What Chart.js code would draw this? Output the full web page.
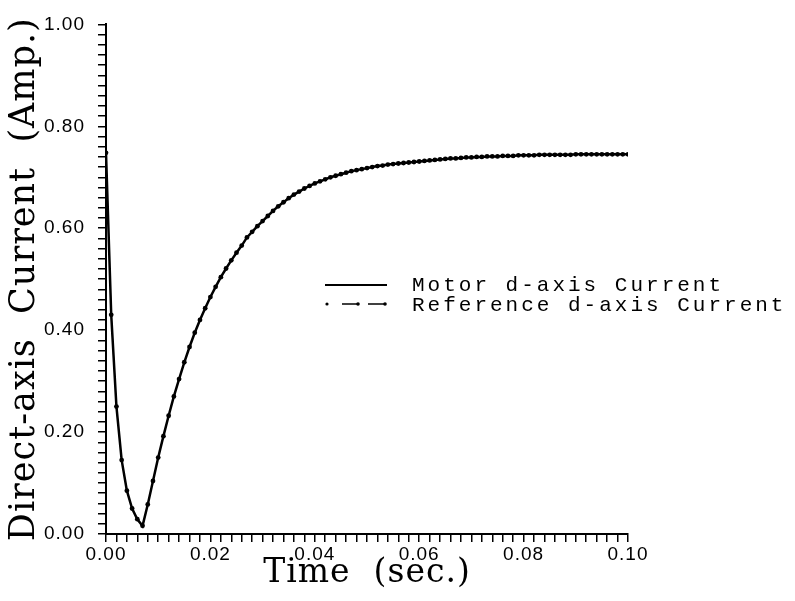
<!DOCTYPE html>
<html>
<head>
<meta charset="utf-8">
<script src="https://cdn.jsdelivr.net/npm/chart.js@4/dist/chart.umd.min.js"></script>
<style>
  html, body { margin: 0; padding: 0; background: #fff; }
  #wrap { width: 795px; height: 601px; }
</style>
</head>
<body>
<div id="wrap"><canvas id="chart" width="795" height="601"></canvas></div>
<script>
// sample times (sec.)
const timeSec = [
  0.000, 0.001, 0.002, 0.003, 0.004, 0.005, 0.006, 0.007, 0.008, 0.009,
  0.010, 0.011, 0.012, 0.013, 0.014, 0.015, 0.016, 0.017, 0.018, 0.019,
  0.020, 0.021, 0.022, 0.023, 0.024, 0.025, 0.026, 0.027, 0.028, 0.029,
  0.030, 0.031, 0.032, 0.033, 0.034, 0.035, 0.036, 0.037, 0.038, 0.039,
  0.040, 0.041, 0.042, 0.043, 0.044, 0.045, 0.046, 0.047, 0.048, 0.049,
  0.050, 0.051, 0.052, 0.053, 0.054, 0.055, 0.056, 0.057, 0.058, 0.059,
  0.060, 0.061, 0.062, 0.063, 0.064, 0.065, 0.066, 0.067, 0.068, 0.069,
  0.070, 0.071, 0.072, 0.073, 0.074, 0.075, 0.076, 0.077, 0.078, 0.079,
  0.080, 0.081, 0.082, 0.083, 0.084, 0.085, 0.086, 0.087, 0.088, 0.089,
  0.090, 0.091, 0.092, 0.093, 0.094, 0.095, 0.096, 0.097, 0.098, 0.099,
  0.100
]

// reference d-axis current (Amp.)
const referenceCurrent = [
  0.748, 0.430, 0.250, 0.145, 0.085, 0.050, 0.029, 0.016, 0.058, 0.104,
  0.150, 0.192, 0.232, 0.270, 0.304, 0.337, 0.367, 0.395, 0.420, 0.443,
  0.465, 0.485, 0.504, 0.521, 0.537, 0.552, 0.566, 0.582, 0.593, 0.604,
  0.614, 0.624, 0.634, 0.643, 0.651, 0.659, 0.666, 0.672, 0.678, 0.683,
  0.688, 0.692, 0.696, 0.700, 0.703, 0.706, 0.709, 0.712, 0.714, 0.716,
  0.718, 0.720, 0.722, 0.723, 0.725, 0.726, 0.727, 0.728, 0.729, 0.730,
  0.731, 0.732, 0.733, 0.734, 0.735, 0.736, 0.737, 0.737, 0.738, 0.739,
  0.739, 0.740, 0.740, 0.741, 0.741, 0.741, 0.742, 0.742, 0.742, 0.743,
  0.743, 0.743, 0.743, 0.744, 0.744, 0.744, 0.744, 0.744, 0.744, 0.744,
  0.745, 0.745, 0.745, 0.745, 0.745, 0.745, 0.745, 0.745, 0.745, 0.745,
  0.745
]

// motor d-axis current (Amp.) - sits on top of the reference
const motorCurrent = [
  0.748, 0.430, 0.250, 0.145, 0.085, 0.050, 0.029, 0.016, 0.058, 0.104,
  0.150, 0.192, 0.232, 0.270, 0.304, 0.337, 0.367, 0.395, 0.420, 0.443,
  0.465, 0.485, 0.504, 0.521, 0.537, 0.552, 0.566, 0.582, 0.593, 0.604,
  0.614, 0.624, 0.634, 0.643, 0.651, 0.659, 0.666, 0.672, 0.678, 0.683,
  0.688, 0.692, 0.696, 0.700, 0.703, 0.706, 0.709, 0.712, 0.714, 0.716,
  0.718, 0.720, 0.722, 0.723, 0.725, 0.726, 0.727, 0.728, 0.729, 0.730,
  0.731, 0.732, 0.733, 0.734, 0.735, 0.736, 0.737, 0.737, 0.738, 0.739,
  0.739, 0.740, 0.740, 0.741, 0.741, 0.741, 0.742, 0.742, 0.742, 0.743,
  0.743, 0.743, 0.743, 0.744, 0.744, 0.744, 0.744, 0.744, 0.744, 0.744,
  0.745, 0.745, 0.745, 0.745, 0.745, 0.745, 0.745, 0.745, 0.745, 0.745,
  0.745
]

const xTickLabels = ["0.00", "0.02", "0.04", "0.06", "0.08", "0.10"]
const yTickLabels = ["0.00", "0.20", "0.40", "0.60", "0.80", "1.00"]

const toPoints = (ys) => timeSec.map((t, i) => ({ x: t, y: ys[i] }))

// a bit of letter spacing for the axis text, like the plotter font
const spacedText = {
  id: "spacedText",
  beforeDraw(chart) { chart.ctx.letterSpacing = "1px" },
  afterDraw(chart) { chart.ctx.letterSpacing = "0px" }
}

// legend drawn inside the plot, next to the curve
const insideLegend = {
  id: "insideLegend",
  afterDraw(chart) {
    const ctx = chart.ctx
    const ds = chart.data.datasets
    ctx.save()
    ctx.strokeStyle = "#000"
    ctx.fillStyle = "#000"
    // motor: solid line
    ctx.lineWidth = 2
    ctx.beginPath()
    ctx.moveTo(325, 285)
    ctx.lineTo(387, 285)
    ctx.stroke()
    // reference: dot then dashes with end dots
    ctx.beginPath()
    ctx.arc(327, 304, 1.6, 0, Math.PI * 2)
    ctx.fill()
    ctx.lineWidth = 1.5
    ;[[342, 358], [368, 385]].forEach(([a, b]) => {
      ctx.beginPath()
      ctx.moveTo(a, 304)
      ctx.lineTo(b, 304)
      ctx.stroke()
      ctx.beginPath()
      ctx.arc(b, 304, 1.8, 0, Math.PI * 2)
      ctx.fill()
    })
    ctx.font = "21px 'Liberation Mono', monospace"
    ctx.letterSpacing = "3px"
    ctx.textBaseline = "middle"
    ctx.fillText(ds[0].label, 412, 285)
    ctx.fillText(ds[1].label, 412, 305)
    ctx.restore()
  }
}

new Chart(document.getElementById("chart"), {
  type: "line",
  data: {
    datasets: [{
      label: "Motor d-axis Current",
      data: toPoints(motorCurrent),
      borderColor: "#000",
      borderWidth: 2.5,
      pointRadius: 0,
      tension: 0
    }, {
      label: "Reference d-axis Current",
      data: toPoints(referenceCurrent),
      borderColor: "#000",
      borderWidth: 1,
      borderDash: [12, 8],
      pointRadius: 2.4,
      pointBackgroundColor: "#000",
      pointBorderColor: "#000",
      pointBorderWidth: 0,
      tension: 0
    }]
  },
  options: {
    responsive: false,
    animation: false,
    layout: { padding: { left: 0, right: 167, top: 16, bottom: 0 } },
    plugins: {
      legend: { display: false },
      tooltip: { enabled: false }
    },
    scales: {
      x: {
        type: "linear",
        min: 0,
        max: 0.1,
        afterFit: (scale) => { scale.height = 67 },
        border: { display: true, color: "#000", width: 2 },
        grid: { display: true, drawOnChartArea: false, drawTicks: true, tickLength: 8, color: "#000", lineWidth: 1.5 },
        ticks: {
          stepSize: 0.002,
          autoSkip: false,
          maxRotation: 0,
          padding: 1,
          color: "#000",
          font: { family: "'Liberation Sans', Arial, sans-serif", size: 19 },
          callback: (v, i) => (i % 10 === 0 ? xTickLabels[i / 10] : "")
        },
        title: {
          display: true,
          text: "Time  (sec.)",
          color: "#000",
          font: { family: "'DejaVu Serif', serif", size: 33 },
          padding: { top: 0, bottom: 8 }
        }
      },
      y: {
        min: 0,
        max: 1,
        afterFit: (scale) => { scale.width = 106 },
        border: { display: true, color: "#000", width: 2 },
        grid: { display: true, drawOnChartArea: false, drawTicks: true, tickLength: 8, color: "#000", lineWidth: 1.5 },
        ticks: {
          stepSize: 0.02,
          autoSkip: false,
          padding: 13,
          color: "#000",
          font: { family: "'Liberation Sans', Arial, sans-serif", size: 19 },
          callback: (v, i) => (i % 10 === 0 ? yTickLabels[i / 10] : "")
        },
        title: {
          display: true,
          text: "Direct-axis  Current  (Amp.)",
          color: "#000",
          font: { family: "'DejaVu Serif', serif", size: 35 },
          padding: { top: 4, bottom: 0 }
        }
      }
    }
  },
  plugins: [spacedText, insideLegend]
})
</script>
</body>
</html>
